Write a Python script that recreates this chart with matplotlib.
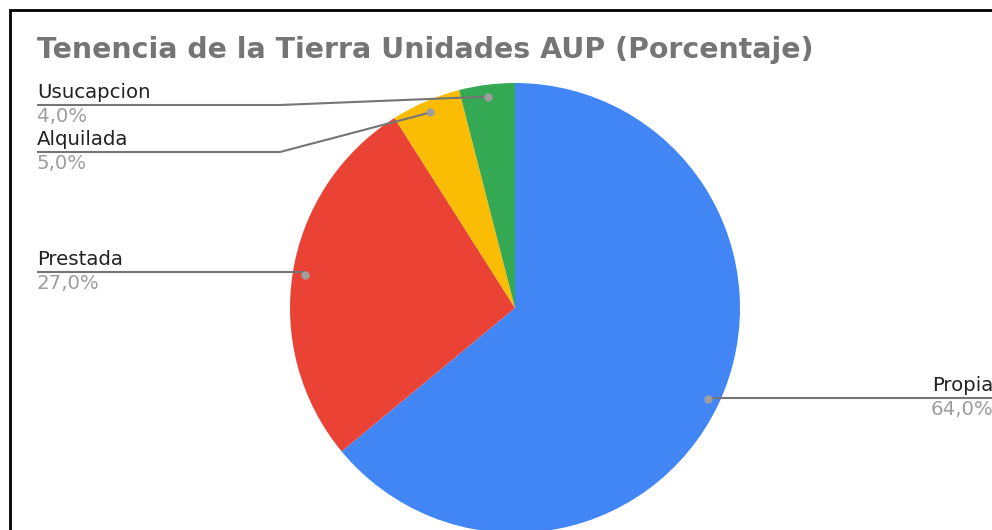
import matplotlib
matplotlib.use("Agg")
import matplotlib.pyplot as plt
import numpy as np

categories = ["Propia", "Prestada", "Alquilada", "Usucapcion"]
values = [64.0, 27.0, 5.0, 4.0]
pct_labels = ["64,0%", "27,0%", "5,0%", "4,0%"]
colors = ["#4285F4", "#EA4335", "#FBBC04", "#34A853"]
title = "Tenencia de la Tierra Unidades AUP (Porcentaje)"

W, H = 992, 530
fig = plt.figure(figsize=(W / 100, H / 100), dpi=100)
ax = fig.add_axes([0, 0, 1, 1])
ax.set_xlim(0, W)
ax.set_ylim(0, H)
ax.axis("off")

cx, cy, R = 515, H - 308, 225
wedges, _ = ax.pie(values, colors=colors, startangle=90, counterclock=False,
                   center=(cx, cy), radius=R, frame=True,
                   wedgeprops=dict(linewidth=0))
ax.set_xlim(0, W)
ax.set_ylim(0, H)
ax.set_aspect("equal")
ax.axis("off")

line_col = "#757575"
dot_col = "#9e9e9e"
lab_col = "#222222"
fs = 14.2

# label layout: (side, elbow_x, line_y_img)
layout = {
    "Propia": ("right", None, 398),
    "Prestada": ("left", None, 272),
    "Alquilada": ("left", 280, 152),
    "Usucapcion": ("left", 280, 105),
}

for w, cat, pl in zip(wedges, categories, pct_labels):
    mid = np.deg2rad((w.theta1 + w.theta2) / 2)
    dx = cx + 0.947 * R * np.cos(mid)
    dy = cy + 0.947 * R * np.sin(mid)
    side, ex, ly = layout[cat]
    ly = H - ly
    if side == "right":
        ax.plot([dx, W + 5], [ly, ly], color=line_col, lw=1.5, solid_capstyle="butt", zorder=3)
        ax.text(W + 1, ly + 3, cat, ha="right", va="bottom", fontsize=fs, color=lab_col)
        ax.text(W + 1, ly - 2, pl, ha="right", va="top", fontsize=fs, color=dot_col)
    else:
        if ex is None:
            xs, ys = [37, dx], [ly, ly]
        else:
            xs, ys = [37, ex, dx], [ly, ly, dy]
        ax.plot(xs, ys, color=line_col, lw=1.5, solid_capstyle="butt", zorder=3)
        ax.text(37, ly + 3, cat, ha="left", va="bottom", fontsize=fs, color=lab_col)
        ax.text(37, ly - 2, pl, ha="left", va="top", fontsize=fs, color=dot_col)
    ax.plot([dx], [dy], "o", ms=6, color=dot_col, mec="none", zorder=4)

ax.text(37, H - 50, title, ha="left", va="center", fontsize=20.4,
        fontweight="bold", color="#757575")

# border of the original screenshot frame
ax.plot([10, 10, W + 5], [-5, H - 10, H - 10], color="black", lw=2,
        solid_joinstyle="miter", clip_on=False)

fig.savefig("out.png", dpi=100)
